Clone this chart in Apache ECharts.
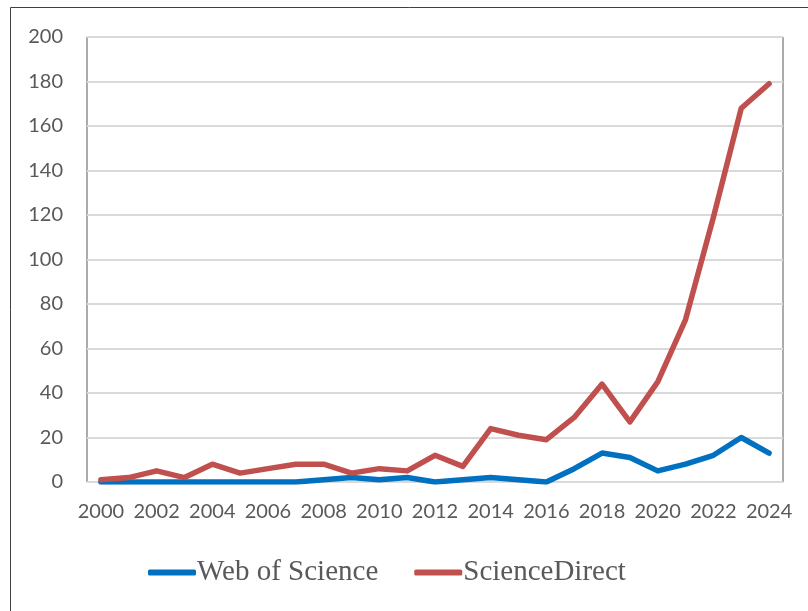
<!DOCTYPE html>
<html><head><meta charset="utf-8">
<script src="https://cdn.jsdelivr.net/npm/echarts@6/dist/echarts.min.js"></script>
<style>html,body{margin:0;padding:0;background:#fff}#c{width:808px;height:611px}</style>
</head><body><div id="c"></div>
<script>
const years = ['2000','2001','2002','2003','2004','2005','2006','2007','2008','2009','2010','2011','2012','2013','2014','2015','2016','2017','2018','2019','2020','2021','2022','2023','2024'];
const webOfScience = [0,0,0,0,0,0,0,0,1,2,1,2,0,1,2,1,0,6,13,11,5,8,12,20,13];
const scienceDirect = [1,2,5,2,8,4,6,8,8,4,6,5,12,7,24,21,19,29,44,27,45,73,119,168,179];
const seriesNames = ['Web of Science','ScienceDirect'];

const chart = echarts.init(document.getElementById('c'));
chart.setOption({
  animation:false,
  graphic:[{type:'rect',shape:{x:10.5,y:7.5,width:820,height:640},style:{fill:'none',stroke:'#404040',lineWidth:1},z:-10}],
  grid:{left:87,top:37,right:25,bottom:129,show:true,borderColor:'#595959',borderWidth:1,backgroundColor:'transparent'},
  legend:{top:553,left:143,itemWidth:48,itemHeight:6,itemGap:36,icon:'roundRect',
    textStyle:{fontFamily:'Liberation Serif',fontSize:29,color:'#595959',padding:[0,0,0,-4]},data:seriesNames},
  xAxis:{type:'category',data:years,boundaryGap:true,
    axisLine:{lineStyle:{color:'#d9d9d9',width:1}},axisTick:{show:false},
    axisLabel:{interval:1,color:'#595959',fontSize:20,fontFamily:'Lato',margin:20}},
  yAxis:{type:'value',min:0,max:200,interval:20,
    axisLine:{show:false},axisTick:{show:false},
    splitLine:{lineStyle:{color:'#d9d9d9',width:2}},
    axisLabel:{color:'#595959',fontSize:20,fontFamily:'Lato',margin:24}},
  series:[
    {name:seriesNames[0],type:'line',data:webOfScience,symbol:'none',lineStyle:{width:5.5,color:'#0070C0',cap:'round',join:'round'},itemStyle:{color:'#0070C0'}},
    {name:seriesNames[1],type:'line',data:scienceDirect,symbol:'none',lineStyle:{width:5.5,color:'#C0504D',cap:'round',join:'round'},itemStyle:{color:'#C0504D'}}
  ]
});
</script></body></html>
